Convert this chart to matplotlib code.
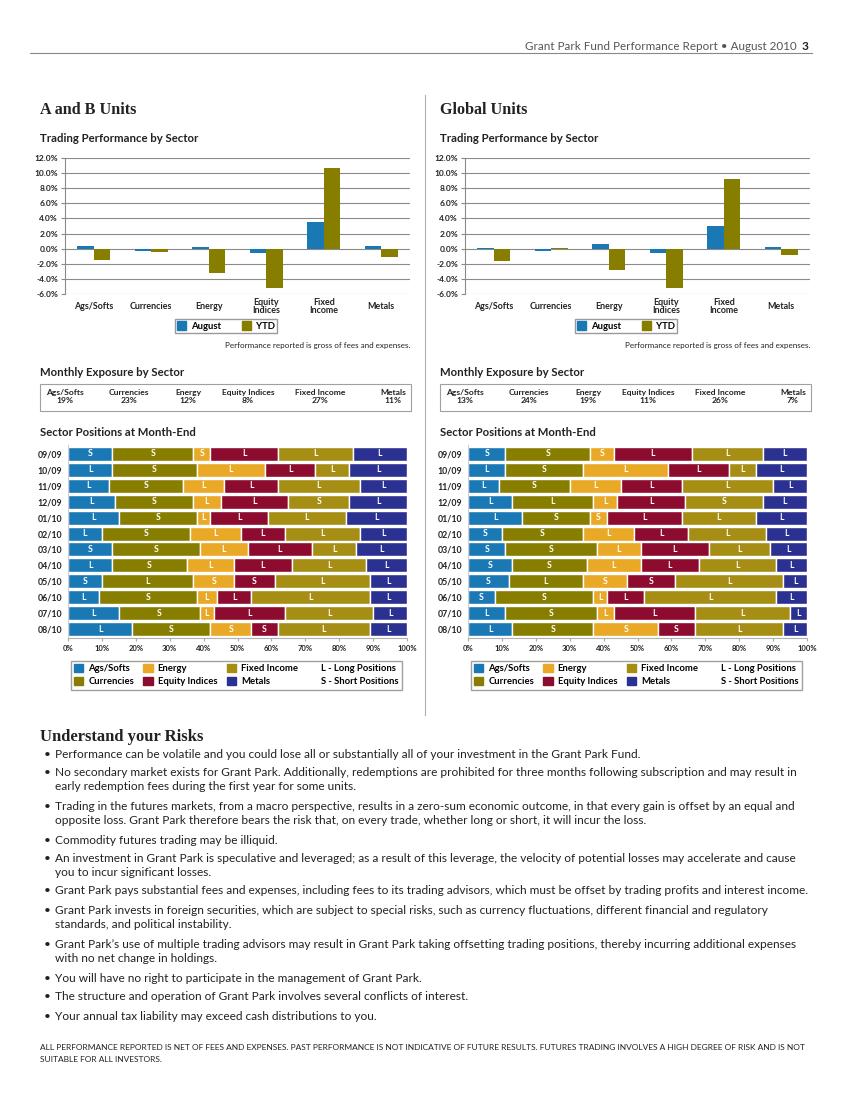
import numpy as np
import matplotlib
matplotlib.use("Agg")
import matplotlib.pyplot as plt
from matplotlib.patches import Patch, Rectangle
from matplotlib.lines import Line2D
from matplotlib.ticker import FuncFormatter

W, H = 850, 1100
SANS = ["Lato", "DejaVu Sans"]
SERIF = ["Liberation Serif", "DejaVu Serif"]
plt.rcParams["font.family"] = SANS

# ---- data ----
SECTORS = ["Ags/Softs", "Currencies", "Energy", "Equity\nIndices", "Fixed\nIncome", "Metals"]
EXPO_NAMES = ["Ags/Softs", "Currencies", "Energy", "Equity Indices", "Fixed Income", "Metals"]

AB_AUG = [0.3, -0.35, 0.2, -0.6, 3.55, 0.3]
AB_YTD = [-1.5, -0.4, -3.2, -5.15, 10.65, -1.15]
GL_AUG = [0.13, -0.27, 0.66, -0.53, 3.06, 0.27]
GL_YTD = [-1.68, 0.13, -2.88, -5.23, 9.26, -0.84]

AB_EXPO = [19, 23, 12, 8, 27, 11]
GL_EXPO = [13, 24, 19, 11, 26, 7]

MONTHS = ["09/09", "10/09", "11/09", "12/09", "01/10", "02/10",
          "03/10", "04/10", "05/10", "06/10", "07/10", "08/10"]

AB_AGS = [13, 13, 12, 14, 15, 10, 13, 13, 10, 9, 15, 19]
AB_CURR = [24, 25, 22, 23, 23, 26, 26, 22, 27, 29, 24, 23]
AB_ENERGY = [5, 20, 12, 8, 4, 15, 14, 14, 12, 6, 4, 12]
AB_EQUITY = [20, 15, 16, 20, 17, 13, 19, 17, 12, 10, 21, 8]
AB_FIXED = [22, 10, 24, 18, 23, 22, 13, 22, 28, 35, 26, 27]
AB_METALS = [16, 17, 14, 17, 18, 14, 15, 12, 11, 11, 10, 11]
AB_POS = ["SSSLLL", "LSLLLL", "LSLLLL", "LSLLSL", "LSLLLL", "LSLLLL",
          "SSLLLL", "LSLLLL", "SLSSLL", "LSLLLL", "LSLLLL", "LSSSLL"]

GL_AGS = [11, 11, 9, 13, 16, 10, 11, 13, 12, 8, 11, 13]
GL_CURR = [25, 23, 21, 24, 20, 24, 27, 22, 22, 29, 27, 24]
GL_ENERGY = [7, 25, 15, 7, 5, 15, 13, 16, 13, 4, 5, 19]
GL_EQUITY = [23, 18, 18, 20, 22, 16, 20, 17, 14, 11, 24, 11]
GL_FIXED = [21, 8, 27, 23, 22, 23, 18, 23, 32, 39, 28, 26]
GL_METALS = [13, 15, 10, 13, 15, 12, 11, 9, 7, 9, 5, 7]
GL_POS = ["SSSLLL", "LSLLLL", "LSLLLL", "LLLLSL", "LSSLLL", "SSLLLL",
          "SSLLLL", "SSLLLL", "SLSSLL", "SSLLLL", "LSLLLL", "LSSSLL"]

RISKS = [
    ["Performance can be volatile and you could lose all or substantially all of your investment in the Grant Park Fund."],
    ["No secondary market exists for Grant Park. Additionally, redemptions are prohibited for three months following subscription and may result in",
     "early redemption fees during the first year for some units."],
    ["Trading in the futures markets, from a macro perspective, results in a zero-sum economic outcome, in that every gain is offset by an equal and",
     "opposite loss. Grant Park therefore bears the risk that, on every trade, whether long or short, it will incur the loss."],
    ["Commodity futures trading may be illiquid."],
    ["An investment in Grant Park is speculative and leveraged; as a result of this leverage, the velocity of potential losses may accelerate and cause",
     "you to incur significant losses."],
    ["Grant Park pays substantial fees and expenses, including fees to its trading advisors, which must be offset by trading profits and interest income."],
    ["Grant Park invests in foreign securities, which are subject to special risks, such as currency fluctuations, different financial and regulatory",
     "standards, and political instability."],
    ["Grant Park\u2019s use of multiple trading advisors may result in Grant Park taking offsetting trading positions, thereby incurring additional expenses",
     "with no net change in holdings."],
    ["You will have no right to participate in the management of Grant Park."],
    ["The structure and operation of Grant Park involves several conflicts of interest."],
    ["Your annual tax liability may exceed cash distributions to you."],
]
RISK_Y = [755, 773, 807, 840, 858, 891, 911, 944, 978, 997, 1016]

# ---- colours ----
BLUE = "#1a78b4"
OLIVE = "#877e00"
ORANGE = "#e9a825"
CRIMSON = "#8c0b2e"
GOLD = "#a68d13"
NAVY = "#2a3190"
SECTOR_COLORS = [BLUE, OLIVE, ORANGE, CRIMSON, GOLD, NAVY]
TXT = "#222222"
GRID = "#8a8a8a"

fig = plt.figure(figsize=(W / 100, H / 100), dpi=100)


def fx(x):
    return x / W


def fy(y):
    return 1 - y / H


def rect(x0, y0, x1, y1):
    return [x0 / W, 1 - y1 / H, (x1 - x0) / W, (y1 - y0) / H]


def ftext(x, y, s, **kw):
    kw.setdefault("color", TXT)
    kw.setdefault("va", "center")
    return fig.text(fx(x), fy(y), s, **kw)


def draw_column(dx, title, aug, ytd, expo, stacks, pos):
    ftext(40 + dx, 110, title, fontsize=11.6, fontweight="bold", family=SERIF)
    ftext(40 + dx, 138, "Trading Performance by Sector", fontsize=8.2, fontweight="bold")

    # trading performance bars
    ax = fig.add_axes(rect(65 + dx, 158, 410 + dx, 294))
    x = np.arange(len(SECTORS))
    w = 0.29
    ax.bar(x - w / 2, aug, w, color=BLUE, zorder=3)
    ax.bar(x + w / 2, ytd, w, color=OLIVE, zorder=3)
    ax.set_xlim(-0.5, 5.5)
    ax.set_ylim(-6, 12)
    ax.set_yticks(np.arange(-6, 13, 2))
    ax.yaxis.set_major_formatter(FuncFormatter(lambda v, p: f"{v:.1f}%"))
    ax.yaxis.grid(True, color=GRID, lw=0.8)
    ax.set_axisbelow(True)
    for s in ["top", "right", "bottom"]:
        ax.spines[s].set_visible(False)
    ax.spines["left"].set_color(GRID)
    ax.tick_params(axis="y", length=3, color=GRID, labelsize=6, pad=2, labelcolor=TXT)
    for lab in ax.get_yticklabels():
        lab.set_fontweight("bold")
    ax.set_xticks([])
    for i, name in enumerate(SECTORS):
        ax.text(i, -0.093, name, transform=ax.get_xaxis_transform(), ha="center", va="center",
                fontsize=6.4, fontweight="bold", color=TXT, linespacing=0.95)
    ax.legend([Patch(color=BLUE), Patch(color=OLIVE)], ["August", "YTD"], loc="center",
              bbox_to_anchor=(fx(226 + dx), fy(326)), bbox_transform=fig.transFigure,
              ncol=2, fancybox=False, edgecolor="#9a9a9a", framealpha=1,
              prop={"size": 6.8, "weight": "bold"}, handlelength=1.0, handleheight=1.0,
              handletextpad=0.5, columnspacing=2.2, borderpad=0.25)
    ftext(410 + dx, 345, "Performance reported is gross of fees and expenses.",
          fontsize=5.8, ha="right")

    # monthly exposure box
    ftext(40 + dx, 372, "Monthly Exposure by Sector", fontsize=8.2, fontweight="bold")
    fig.add_artist(Rectangle((fx(40 + dx), fy(411)), 371 / W, 27 / H, transform=fig.transFigure,
                             fill=False, edgecolor="#a0a0a0", lw=0.8))
    cx = [65, 129, 188, 248, 320, 393]
    for c, name, v in zip(cx, EXPO_NAMES, expo):
        ftext(c + dx, 392.5, name, fontsize=6.1, fontweight="bold", ha="center")
        ftext(c + dx, 400.5, f"{v}%", fontsize=6.1, fontweight="bold", ha="center")

    # sector positions
    ftext(40 + dx, 432, "Sector Positions at Month-End", fontsize=8.2, fontweight="bold")
    ax = fig.add_axes(rect(68 + dx, 445, 407 + dx, 638))
    y = np.arange(len(MONTHS))
    left = np.zeros(len(MONTHS))
    for k, (vals, col) in enumerate(zip(stacks, SECTOR_COLORS)):
        vals = np.array(vals, dtype=float)
        ax.barh(y, vals, left=left, height=0.88, color=col, edgecolor="white", linewidth=1.0)
        for r in range(len(MONTHS)):
            ax.text(left[r] + vals[r] / 2, y[r], pos[r][k], ha="center", va="center",
                    fontsize=6.2, fontweight="bold", color="white")
        left += vals
    ax.set_xlim(0, 100)
    ax.set_ylim(11.55, -0.55)
    ax.set_xticks(np.arange(0, 101, 10))
    ax.xaxis.set_major_formatter(FuncFormatter(lambda v, p: f"{v:.0f}%"))
    ax.set_yticks(y)
    ax.set_yticklabels(MONTHS)
    ax.tick_params(axis="x", length=2, color="#aaaaaa", labelsize=5.5, pad=3, labelcolor=TXT)
    ax.tick_params(axis="y", length=0, labelsize=6.3, pad=4, labelcolor=TXT)
    for lab in ax.get_xticklabels() + ax.get_yticklabels():
        lab.set_fontweight("bold")
    for s in ["top", "right"]:
        ax.spines[s].set_visible(False)
    ax.spines["bottom"].set_color("#b0b0b0")
    ax.spines["left"].set_color("#d0d0d0")

    names = ["Ags/Softs", "Currencies", "Energy", "Equity Indices", "Fixed Income", "Metals",
             "L - Long Positions", "S - Short Positions"]
    handles = [Patch(color=c) for c in SECTOR_COLORS] + [Patch(color="none")] * 2
    ax.legend(handles, names, loc="upper left", mode="expand",
              bbox_to_anchor=(fx(66 + dx), fy(690), 341 / W, 34 / H),
              bbox_transform=fig.transFigure, ncol=4, fancybox=False, edgecolor="#a0a0a0",
              framealpha=1, prop={"size": 6.8, "weight": "bold"}, handlelength=1.0,
              handleheight=1.0, handletextpad=0.5, columnspacing=1.0, borderpad=0.35,
              labelspacing=0.35)


draw_column(0, "A and B Units", AB_AUG, AB_YTD, AB_EXPO,
            [AB_AGS, AB_CURR, AB_ENERGY, AB_EQUITY, AB_FIXED, AB_METALS], AB_POS)
draw_column(400, "Global Units", GL_AUG, GL_YTD, GL_EXPO,
            [GL_AGS, GL_CURR, GL_ENERGY, GL_EQUITY, GL_FIXED, GL_METALS], GL_POS)

# header and divider
ftext(797, 46, "Grant Park Fund Performance Report \u2022 August 2010", fontsize=8.4,
      ha="right", color="#555555")
ftext(808, 46, "3", fontsize=8.6, ha="right", fontweight="bold", color=TXT)
fig.add_artist(Line2D([fx(30), fx(812)], [fy(53), fy(53)], color="#888888", lw=0.8))
fig.add_artist(Line2D([fx(425), fx(425)], [fy(95), fy(715)], color="#b0b0b0", lw=0.8))

# risks
ftext(40, 737, "Understand your Risks", fontsize=12, fontweight="bold", family=SERIF)
for item, y0 in zip(RISKS, RISK_Y):
    ftext(44, y0, "\u2022", fontsize=8.6)
    for j, line in enumerate(item):
        ftext(55, y0 + 14 * j, line, fontsize=8.6)

ftext(40, 1047, "ALL PERFORMANCE REPORTED IS NET OF FEES AND EXPENSES. PAST PERFORMANCE IS NOT INDICATIVE "
      "OF FUTURE RESULTS. FUTURES TRADING INVOLVES A HIGH DEGREE OF RISK AND IS NOT", fontsize=6.0)
ftext(40, 1060, "SUITABLE FOR ALL INVESTORS.", fontsize=6.0)

fig.savefig("out.png", dpi=100, facecolor="white")
